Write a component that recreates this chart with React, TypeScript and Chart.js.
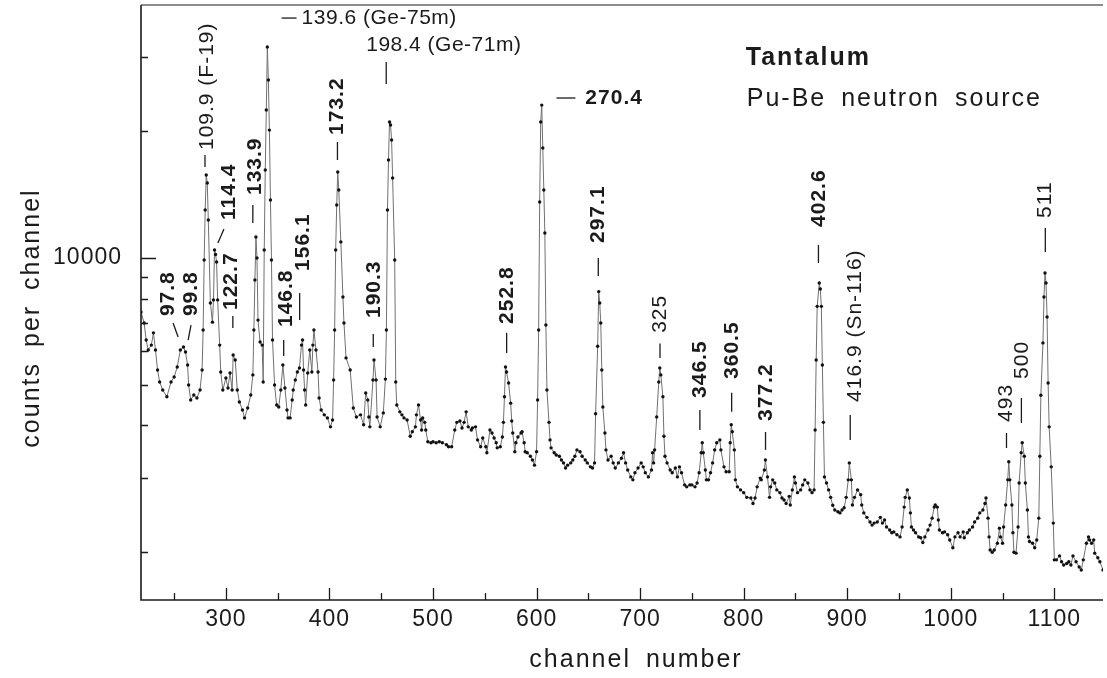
import React, { useEffect, useRef } from 'react';
import { Chart, registerables } from 'chart.js';

Chart.register(...registerables);

// ---- data (channel number, counts per channel) ----
const channels = [
  218, 221, 223, 225, 228, 230, 232, 234, 236, 239, 243, 247, 250, 253, 256, 259, 261, 263, 264, 266,
  269, 272, 275, 277, 278, 279, 280, 281, 282, 283, 285, 287, 288, 289, 290, 291, 292, 294, 295, 297,
  300, 302, 304, 306, 307, 309, 311, 313, 316, 318, 321, 324, 326, 327, 328, 329, 330, 331, 333, 335,
  336, 337, 338, 339, 340, 341, 342, 343, 344, 345, 347, 349, 351, 353, 355, 357, 359, 360, 362, 364,
  365, 367, 369, 371, 373, 374, 375, 376, 377, 379, 381, 383, 384, 385, 387, 389, 390, 392, 395, 398,
  401, 403, 404, 405, 406, 407, 408, 409, 411, 413, 414, 416, 420, 423, 426, 430, 433, 435, 437, 438,
  439, 442, 443, 445, 446, 449, 452, 454, 455, 456, 457, 458, 459, 460, 461, 463, 464, 465, 468, 470,
  472, 475, 478, 480, 483, 484, 486, 488, 489, 490, 492, 493, 495, 498, 500, 503, 506, 509, 513, 515,
  518, 521, 523, 526, 528, 530, 532, 534, 537, 538, 541, 543, 546, 548, 551, 552, 555, 557, 559, 561,
  562, 565, 567, 568, 569, 570, 571, 573, 575, 576, 577, 579, 580, 582, 585, 586, 588, 589, 591, 594,
  596, 598, 600, 601, 602, 603, 604, 605, 606, 607, 608, 609, 610, 612, 613, 614, 617, 619, 622, 624,
  626, 628, 630, 633, 635, 637, 639, 642, 644, 647, 649, 652, 654, 656, 657, 659, 660, 661, 662, 663,
  664, 666, 667, 669, 672, 674, 676, 679, 682, 684, 686, 688, 691, 693, 695, 698, 701, 703, 705, 708,
  711, 712, 713, 714, 716, 718, 719, 720, 722, 723, 724, 726, 729, 731, 734, 736, 738, 740, 743, 745,
  748, 750, 753, 755, 757, 759, 760, 761, 763, 764, 766, 768, 770, 772, 774, 777, 778, 781, 783, 786,
  787, 788, 789, 791, 792, 794, 797, 800, 803, 807, 809, 811, 813, 816, 817, 820, 821, 823, 825, 826,
  828, 830, 832, 835, 837, 839, 841, 844, 845, 847, 849, 850, 852, 855, 857, 859, 862, 864, 866, 868,
  869, 870, 871, 873, 874, 875, 876, 877, 878, 880, 882, 884, 886, 888, 891, 893, 895, 897, 899, 901,
  902, 904, 905, 907, 910, 913, 914, 916, 919, 922, 924, 926, 929, 932, 934, 936, 938, 941, 943, 945,
  948, 951, 953, 955, 956, 958, 960, 961, 962, 964, 966, 969, 971, 973, 975, 978, 980, 982, 984, 985,
  987, 988, 989, 992, 994, 997, 999, 1002, 1004, 1007, 1009, 1012, 1013, 1016, 1018, 1021, 1023, 1026, 1028, 1031,
  1033, 1034, 1036, 1037, 1038, 1040, 1042, 1045, 1047, 1048, 1050, 1051, 1053, 1055, 1056, 1057, 1059, 1060, 1061, 1063,
  1065, 1066, 1068, 1069, 1071, 1072, 1074, 1075, 1076, 1079, 1081, 1083, 1085, 1086, 1087, 1089, 1090, 1091, 1092, 1093,
  1094, 1095, 1097, 1099, 1100, 1102, 1105, 1107, 1109, 1112, 1114, 1116, 1118, 1121, 1124, 1126, 1128, 1131, 1133, 1134,
  1136, 1138, 1139, 1142, 1144, 1147,
];

const counts = [
  7440, 7005, 6384, 6044, 6210, 6640, 6044, 5420, 5075, 4857, 4680, 5075, 5215, 5510, 6044, 6145, 5980, 5570, 4990, 4600,
  4725, 4650, 4857, 5420, 6745, 9891, 13000, 15740, 15070, 12310, 7820, 7040, 7950, 10450, 10190, 9785, 7950, 6210, 5360, 4857,
  5185, 4910, 5330, 4857, 5880, 5723, 4857, 4550, 4355, 4170, 4400, 4725, 5275, 6745, 8867, 11220, 10000, 7120, 6315, 6210,
  5075, 10450, 16180, 22460, 31700, 26480, 20130, 13730, 9891, 6384, 4990, 4475, 4425, 4857, 5570, 4910, 4355, 4170, 4170, 4600,
  4857, 5130, 5360, 5480, 6210, 6384, 5420, 4857, 4475, 5330, 6044, 5360, 6210, 6745, 6044, 5360, 4650, 4355, 4240, 4170,
  3970, 4122, 5130, 6745, 10450, 13360, 16000, 14500, 10920, 8080, 7005, 5790, 5420, 4400, 4190, 4240, 4015, 4780, 4600, 4190,
  3970, 5130, 5723, 5130, 4190, 3970, 4285, 5155, 6745, 13000, 17090, 21040, 20690, 19060, 15490, 9891, 5075, 4475, 4310, 4240,
  4170, 4122, 3770, 3865, 3970, 4240, 4475, 4122, 3904, 4170, 4070, 3904, 3660, 3640, 3660, 3640, 3660, 3640, 3600, 3560,
  3560, 3904, 4070, 4100, 3945, 4070, 4310, 3970, 3904, 3945, 3970, 3697, 3560, 3737, 3560, 3445, 3904, 3840, 3737, 3640,
  3540, 3560, 3757, 4070, 4680, 5510, 5360, 5045, 4520, 4100, 3840, 3465, 3640, 3757, 3840, 3865, 3640, 3465, 3445, 3380,
  3313, 3220, 3465, 4600, 6745, 13580, 21040, 23080, 18250, 14500, 11460, 6930, 4857, 4070, 3697, 3540, 3445, 3405, 3380, 3313,
  3260, 3170, 3220, 3260, 3313, 3380, 3500, 3465, 3380, 3313, 3260, 3190, 3170, 3260, 4265, 6170, 8320, 7820, 7005, 5420,
  4425, 3840, 3500, 3313, 3380, 3260, 3170, 3260, 3345, 3445, 3260, 3137, 3020, 2971, 3090, 3170, 3260, 3190, 3090, 3020,
  3137, 3445, 3260, 3500, 4190, 5075, 5480, 5275, 4680, 3770, 3380, 3260, 3137, 3090, 3170, 3020, 3190, 3090, 2890, 2860,
  2890, 2890, 2860, 2920, 3090, 3445, 3640, 3445, 3137, 2971, 2971, 3090, 3260, 3500, 3640, 3697, 3500, 3190, 3105, 3105,
  3640, 4015, 3865, 3500, 2971, 2860, 2812, 2770, 2700, 2690, 2610, 2690, 2860, 3000, 2971, 3137, 3313, 3020, 2700, 2860,
  2971, 2920, 2812, 2770, 2690, 2662, 2610, 2715, 2590, 2812, 3020, 2920, 2770, 2812, 2890, 2971, 2920, 2812, 2770, 2812,
  3904, 5723, 7675, 8720, 8440, 7675, 5570, 4070, 3020, 2920, 2812, 2700, 2585, 2520, 2495, 2480, 2520, 2550, 2700, 2971,
  3260, 2971, 2590, 2700, 2812, 2740, 2590, 2480, 2420, 2360, 2320, 2345, 2360, 2420, 2345, 2386, 2295, 2259, 2225, 2235,
  2200, 2175, 2295, 2560, 2700, 2812, 2690, 2480, 2295, 2259, 2225, 2175, 2165, 2110, 2175, 2259, 2320, 2410, 2560, 2590,
  2560, 2386, 2259, 2225, 2235, 2200, 2139, 2050, 2175, 2225, 2175, 2235, 2165, 2225, 2259, 2295, 2360, 2410, 2480, 2520,
  2610, 2690, 2410, 2175, 2025, 2000, 2025, 2100, 2280, 2175, 2100, 2295, 2590, 2971, 3280, 2971, 2590, 2225, 2000, 1990,
  2295, 2920, 3445, 3640, 3380, 2920, 2520, 2175, 2120, 2100, 2050, 2139, 2410, 3380, 4720, 6285, 8080, 9215, 8720, 7240,
  5045, 3970, 3190, 2345, 1918, 1918, 1960, 1898, 1865, 1880, 1898, 1865, 1960, 1898, 1845, 1815, 1918, 2100, 2175, 2139,
  2100, 2139, 1990, 1940, 1898, 1815,
];

// ---- axes ----
const xMin = 218;
const xMax = 1147;
const yMin = 1540;
const yMax = 39900;
const xMajorTicks = [300, 400, 500, 600, 700, 800, 900, 1000, 1100];
const xMinorTicks = [250, 350, 450, 550, 650, 750, 850, 950, 1050];
const yMinorTicks = [2000, 3000, 4000, 5000, 6000, 7000, 8000, 9000, 20000, 30000];
const yLabelTicks = [10000];

// ---- peak annotations: text, anchor (channel, counts), leader segment ----
type Ann = { t: string; bold: boolean; rot: boolean; x: number; y: number; l: [number, number, number, number] };
const annotations: Ann[] = [
  { t: '97.8', bold: true, rot: true, x: 244.2, y: 7278, l: [249.0, 7005, 253.8, 6490] },
  { t: '99.8', bold: true, rot: true, x: 266.3, y: 7278, l: [266.3, 6930, 263.5, 6384] },
  { t: '109.9 (F-19)', bold: false, rot: true, x: 281.7, y: 18050, l: [279.8, 17570, 279.8, 16450] },
  { t: '114.4', bold: true, rot: true, x: 302.9, y: 12310, l: [298.1, 11720, 292.3, 10855] },
  { t: '122.7', bold: true, rot: true, x: 304.8, y: 7524, l: [306.7, 7280, 306.7, 6818] },
  { t: '133.9', bold: true, rot: true, x: 327.9, y: 14110, l: [326.0, 13360, 326.0, 12110] },
  { t: '139.6 (Ge-75m)', bold: false, rot: false, x: 373.1, y: 37150, l: [353.8, 37150, 368.2, 37150] },
  { t: '146.8', bold: true, rot: true, x: 358.7, y: 6855, l: [355.8, 6384, 355.8, 5850] },
  { t: '156.1', bold: true, rot: true, x: 375.0, y: 9315, l: [371.2, 8255, 371.2, 7120] },
  { t: '173.2', bold: true, rot: true, x: 407.7, y: 19600, l: [407.7, 18860, 407.7, 17090] },
  { t: '190.3', bold: true, rot: true, x: 443.3, y: 7200, l: [442.3, 6600, 442.3, 6145] },
  { t: '198.4 (Ge-71m)', bold: false, rot: false, x: 435.5, y: 32060, l: [454.8, 29220, 454.8, 25900] },
  { t: '252.8', bold: true, rot: true, x: 572.1, y: 6970, l: [571.1, 6640, 571.1, 5945] },
  { t: '270.4', bold: true, rot: false, x: 647.1, y: 23990, l: [619.2, 23990, 637.5, 23990] },
  { t: '297.1', bold: true, rot: true, x: 659.6, y: 10855, l: [659.6, 10000, 659.6, 9063] },
  { t: '325', bold: false, rot: true, x: 719.2, y: 6640, l: [719.2, 6260, 719.2, 5790] },
  { t: '346.5', bold: true, rot: true, x: 757.7, y: 4650, l: [757.7, 4355, 757.7, 3904] },
  { t: '360.5', bold: true, rot: true, x: 789.4, y: 5160, l: [788.4, 4785, 788.4, 4310] },
  { t: '377.2', bold: true, rot: true, x: 822.1, y: 4100, l: [821.1, 3860, 821.1, 3500] },
  { t: '402.6', bold: true, rot: true, x: 873.1, y: 11850, l: [872.2, 10740, 872.2, 9730] },
  { t: '416.9 (Sn-116)', bold: false, rot: true, x: 907.7, y: 4550, l: [902.9, 4238, 902.9, 3697] },
  { t: '493', bold: false, rot: true, x: 1053.8, y: 4080, l: [1053.8, 3840, 1053.8, 3537] },
  { t: '500', bold: false, rot: true, x: 1069.2, y: 5159, l: [1068.2, 4650, 1068.2, 4056] },
  { t: '511', bold: false, rot: true, x: 1091.3, y: 12450, l: [1091.3, 11785, 1091.3, 10330] },
];

const titleLines = [
  { t: 'Tantalum', bold: true, x: 802, y: 28730 },
  { t: 'Pu-Be neutron source', bold: false, x: 803, y: 22960 },
];

const xTitle = 'channel number';
const yTitle = 'counts per channel';

const FONT = '"Liberation Sans", Arial, Helvetica, sans-serif';
const INK = '#1b1b1b';

const overlay = {
  id: 'overlay',
  afterDatasetsDraw(chart: any) {
    const { ctx, chartArea: a } = chart;
    const xs = chart.scales.x;
    const ys = chart.scales.y;
    ctx.save();
    ctx.strokeStyle = INK;
    ctx.fillStyle = INK;

    // frame
    ctx.lineWidth = 1.6;
    ctx.beginPath();
    ctx.moveTo(a.left, a.top);
    ctx.lineTo(a.left, a.bottom);
    ctx.lineTo(a.right, a.bottom);
    ctx.stroke();
    ctx.lineWidth = 1.1;
    ctx.beginPath();
    ctx.moveTo(a.left, a.top);
    ctx.lineTo(a.right, a.top);
    ctx.stroke();

    // inward ticks
    ctx.lineWidth = 1.3;
    ctx.beginPath();
    xMajorTicks.forEach((v) => {
      const p = Math.round(xs.getPixelForValue(v)) + 0.5;
      ctx.moveTo(p, a.bottom);
      ctx.lineTo(p, a.bottom - 12);
    });
    xMinorTicks.forEach((v) => {
      const p = Math.round(xs.getPixelForValue(v)) + 0.5;
      ctx.moveTo(p, a.bottom);
      ctx.lineTo(p, a.bottom - 7);
    });
    yMinorTicks.forEach((v) => {
      const p = Math.round(ys.getPixelForValue(v)) + 0.5;
      ctx.moveTo(a.left, p);
      ctx.lineTo(a.left + 7, p);
    });
    yLabelTicks.forEach((v) => {
      const p = Math.round(ys.getPixelForValue(v)) + 0.5;
      ctx.moveTo(a.left, p);
      ctx.lineTo(a.left + 15, p);
    });
    ctx.stroke();

    // tick labels
    ctx.font = `23px ${FONT}`;
    (ctx as any).letterSpacing = '1px';
    ctx.textBaseline = 'middle';
    ctx.textAlign = 'center';
    xMajorTicks.forEach((v) => {
      ctx.fillText(String(v), xs.getPixelForValue(v), a.bottom + 20);
    });
    ctx.textAlign = 'right';
    yLabelTicks.forEach((v) => {
      ctx.fillText(String(v), a.left - 19, ys.getPixelForValue(v));
    });

    // axis titles
    ctx.font = `25px ${FONT}`;
    (ctx as any).letterSpacing = '2px';
    (ctx as any).wordSpacing = '6px';
    ctx.textAlign = 'center';
    ctx.fillText(xTitle, 636, 660);
    ctx.save();
    ctx.translate(32, 318);
    ctx.rotate(-Math.PI / 2);
    ctx.fillText(yTitle, 0, 0);
    ctx.restore();

    // title block
    ctx.textAlign = 'left';
    ctx.textBaseline = 'alphabetic';
    titleLines.forEach((s) => {
      ctx.font = `${s.bold ? 'bold ' : ''}25px ${FONT}`;
      ctx.fillText(s.t, xs.getPixelForValue(s.x), ys.getPixelForValue(s.y));
    });
    (ctx as any).wordSpacing = '0px';

    // peak labels
    annotations.forEach((an) => {
      const horizontalPlain = !an.rot && !an.bold;
      (ctx as any).letterSpacing = horizontalPlain ? '0.5px' : '1px';
      ctx.font = `${an.bold ? 'bold ' : ''}21px ${FONT}`;
      const px = xs.getPixelForValue(an.x);
      const py = ys.getPixelForValue(an.y);
      ctx.textAlign = 'left';
      ctx.textBaseline = 'middle';
      if (an.rot) {
        ctx.save();
        ctx.translate(px, py);
        ctx.rotate(-Math.PI / 2);
        ctx.fillText(an.t, 0, 0);
        ctx.restore();
      } else {
        ctx.fillText(an.t, px, py);
      }
      ctx.lineWidth = 1.3;
      ctx.beginPath();
      ctx.moveTo(xs.getPixelForValue(an.l[0]), ys.getPixelForValue(an.l[1]));
      ctx.lineTo(xs.getPixelForValue(an.l[2]), ys.getPixelForValue(an.l[3]));
      ctx.stroke();
    });

    ctx.restore();
  },
};

export default function App() {
  const ref = useRef<HTMLCanvasElement | null>(null);

  useEffect(() => {
    if (!ref.current) return;
    const chart = new Chart(ref.current, {
      type: 'line',
      data: {
        datasets: [
          {
            data: channels.map((c, i) => ({ x: c, y: counts[i] })),
            borderColor: '#707070',
            borderWidth: 1,
            pointRadius: 1.7,
            pointBackgroundColor: '#111',
            pointBorderWidth: 0,
            tension: 0,
            fill: false,
          },
        ],
      },
      options: {
        animation: false,
        responsive: false,
        devicePixelRatio: 1,
        layout: { padding: { left: 141, top: 5, right: 0, bottom: 78 } },
        scales: {
          x: { type: 'linear', min: xMin, max: xMax, display: false },
          y: { type: 'logarithmic', min: yMin, max: yMax, display: false },
        },
        plugins: {
          legend: { display: false },
          tooltip: { enabled: false },
        },
      },
      plugins: [overlay],
    });
    return () => chart.destroy();
  }, []);

  return (
    <div style={{ position: 'absolute', left: 0, top: 0, width: 1107, height: 678, background: '#fff' }}>
      <canvas ref={ref} width={1107} height={678} style={{ display: 'block' }} />
    </div>
  );
}
